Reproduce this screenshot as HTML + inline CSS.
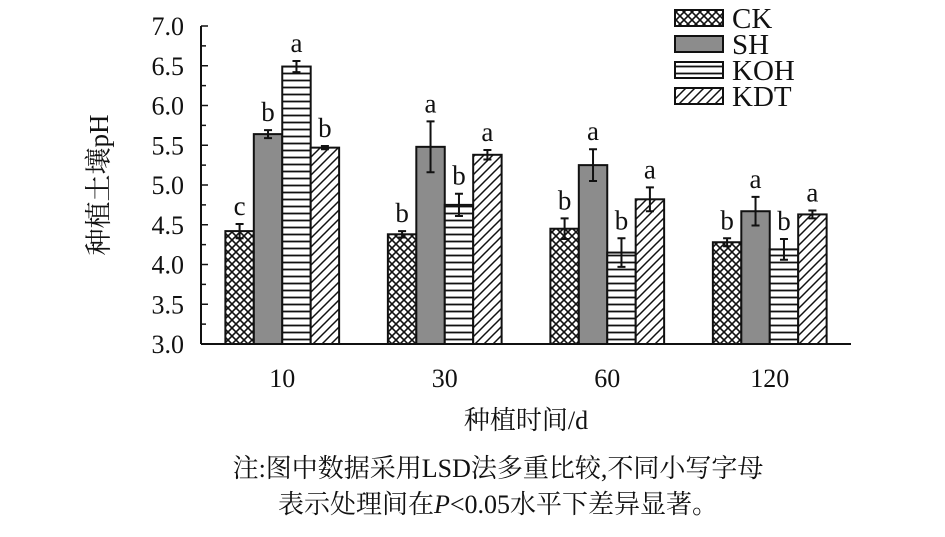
<!DOCTYPE html>
<html><head><meta charset="utf-8"><style>
body{margin:0;background:#fff}
svg text{font-family:"Liberation Serif","Noto Serif CJK SC",serif;fill:#111}
</style></head><body>
<svg width="945" height="532" viewBox="0 0 945 532">
<defs>
<pattern id="pCK" width="8" height="8" patternUnits="userSpaceOnUse"><rect width="8" height="8" fill="#fff"/><path d="M0,0L8,8M8,0L0,8" stroke="#111" stroke-width="1.6"/></pattern>
<pattern id="pKOH" width="8" height="7" patternUnits="userSpaceOnUse"><rect width="8" height="7" fill="#fff"/><path d="M0,3.5H8" stroke="#111" stroke-width="1.8"/></pattern>
<pattern id="pKDT" width="9" height="9" patternUnits="userSpaceOnUse"><rect width="9" height="9" fill="#fff"/><path d="M-1,10L10,-1M-1,1L1,-1M8,10L10,8" stroke="#111" stroke-width="1.5"/></pattern>
</defs>
<g id="axes"></g><g id="bars"></g><g id="legend"></g>
<text x="108" y="185" font-size="27" text-anchor="middle" transform="rotate(-90 108 185)">种植土壤pH</text>
<text x="526" y="429" font-size="26" text-anchor="middle">种植时间/d</text>
<text x="498" y="477" font-size="26" text-anchor="middle">注:图中数据采用LSD法多重比较,不同小写字母</text>
<text x="498" y="513" font-size="26" text-anchor="middle">表示处理间在<tspan font-style="italic">P</tspan>&lt;0.05水平下差异显著。</text>
</svg>
<script>
const categories=["10","30","60","120"];
const seriesNames=["CK","SH","KOH","KDT"];
const ck=[4.42,4.38,4.45,4.28];
const sh=[5.64,5.48,5.25,4.67];
const koh=[6.49,4.75,4.15,4.19];
const kdt=[5.47,5.38,4.82,4.63];
const ckErr=[0.09,0.04,0.13,0.05];
const shErr=[0.05,0.32,0.20,0.18];
const kohErr=[0.07,0.14,0.18,0.13];
const kdtErr=[0.02,0.06,0.15,0.05];
const ckSig=["c","b","b","b"];
const shSig=["b","a","a","a"];
const kohSig=["a","b","b","b"];
const kdtSig=["b","a","a","a"];
const yTicks=["3.0","3.5","4.0","4.5","5.0","5.5","6.0","6.5","7.0"];
const NS="http://www.w3.org/2000/svg";
const X0=201,X1=851,Y0=344,Y1=26,YMIN=3,YMAX=7;
const y=v=>Y0-(v-YMIN)/(YMAX-YMIN)*(Y0-Y1);
const band=(X1-X0)/categories.length;
const xc=i=>X0+band*(i+0.5);
const bw=band*0.7/4;
function mk(t,a,p){const e=document.createElementNS(NS,t);for(const k in a)e.setAttribute(k,a[k]);p.appendChild(e);return e;}
const ax=document.getElementById('axes');
const yl=mk('line',{x1:X0,y1:Y1,x2:X0,y2:Y0,stroke:'#111','stroke-width':2},ax);


const xl=mk('line',{x1:X0,y1:Y0,x2:X1,y2:Y0,stroke:'#111','stroke-width':2},ax);


for(let i=0;i<yTicks.length;i++){const v=parseFloat(yTicks[i]);
 mk('line',{x1:X0,x2:X0+7,y1:y(v),y2:y(v),stroke:'#111','stroke-width':1.5},ax);
 if(i<yTicks.length-1)mk('line',{x1:X0,x2:X0+5,y1:y(v+0.25),y2:y(v+0.25),stroke:'#111','stroke-width':1.5},ax);
 const t=mk('text',{x:184,y:y(v)+9,'font-size':26,'text-anchor':'end'},ax);t.textContent=yTicks[i];
 
 }
categories.forEach((c,i)=>{const t=mk('text',{x:xc(i),y:387,'font-size':26,'text-anchor':'middle'},ax);t.textContent=c;
 
 });
const vals=[ck,sh,koh,kdt],errs=[ckErr,shErr,kohErr,kdtErr],sigs=[ckSig,shSig,kohSig,kdtSig];
const fills=["url(#pCK)","#8c8c8c","url(#pKOH)","url(#pKDT)"];
const bg=document.getElementById('bars');
categories.forEach((c,i)=>{for(let s=0;s<4;s++){
 const v=vals[s][i],e=errs[s][i];const x=xc(i)-2*bw+s*bw;
 const r=mk('rect',{x:x,y:y(v),width:bw,height:Y0-y(v),fill:fills[s],stroke:'#111','stroke-width':2},bg);
 
 
 const cx=x+bw/2;
 mk('path',{d:`M${cx},${y(v+e)}V${y(v-e)}M${cx-4},${y(v+e)}H${cx+4}M${cx-4},${y(v-e)}H${cx+4}`,stroke:'#111','stroke-width':2,fill:'none'},bg);
 const t=mk('text',{x:cx,y:y(v+e)-9,'font-size':27,'text-anchor':'middle'},bg);t.textContent=sigs[s][i];
 
 }});
const lg=document.getElementById('legend');
seriesNames.forEach((n,s)=>{const yy=10+s*26;
 const r=mk('rect',{x:675,y:yy,width:48,height:16,fill:fills[s],stroke:'#111','stroke-width':2},lg);
 
 
 const t=mk('text',{x:732,y:yy+18,'font-size':29},lg);t.textContent=n;
 
 });
</script>
</body></html>
